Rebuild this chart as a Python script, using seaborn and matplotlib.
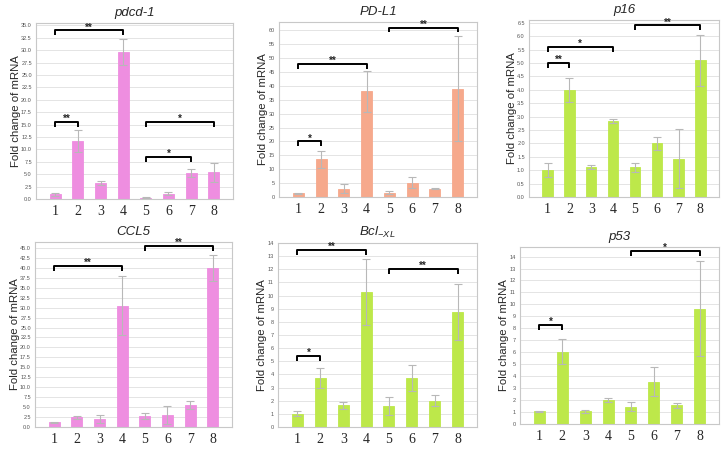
import numpy as np
import pandas as pd
import matplotlib
matplotlib.use("Agg")
import matplotlib.pyplot as plt
import seaborn as sns

# ---- data ----
groups = ["1", "2", "3", "4", "5", "6", "7", "8"]

pdcd1_mean = [1.0, 11.7, 3.3, 29.7, 0.3, 1.1, 5.3, 5.4]
pdcd1_err = [0.3, 2.2, 0.4, 2.6, 0.1, 0.3, 0.8, 1.9]

pdl1_mean = [1.3, 13.5, 3.0, 38.0, 1.5, 5.2, 3.0, 39.0]
pdl1_err = [0.2, 3.0, 1.5, 7.5, 0.5, 2.0, 0.3, 19.0]

p16_mean = [1.0, 4.0, 1.12, 2.83, 1.1, 2.0, 1.42, 5.1]
p16_err = [0.25, 0.45, 0.07, 0.08, 0.15, 0.25, 1.1, 0.95]

ccl5_mean = [1.2, 2.4, 2.0, 30.5, 2.8, 3.0, 5.5, 40.0]
ccl5_err = [0.1, 0.4, 1.0, 7.5, 0.8, 2.2, 1.0, 3.3]

bcl_mean = [1.0, 3.75, 1.65, 10.25, 1.6, 3.75, 2.0, 8.75]
bcl_err = [0.2, 0.75, 0.25, 2.5, 0.65, 1.0, 0.4, 2.1]

p53_mean = [1.05, 6.05, 1.05, 2.0, 1.45, 3.55, 1.55, 9.65]
p53_err = [0.05, 1.05, 0.15, 0.15, 0.35, 1.25, 0.2, 3.95]

# significance brackets: (group a, group b, height, label)
pdcd1_sig = [(1, 2, 15.5, "**"), (1, 4, 34.0, "**"), (5, 7, 8.5, "*"), (5, 8, 15.5, "*")]
pdl1_sig = [(1, 2, 20.0, "*"), (1, 4, 48.0, "**"), (5, 8, 61.0, "**")]
p16_sig = [(1, 2, 5.0, "**"), (1, 4, 5.6, "*"), (5, 8, 6.4, "**")]
ccl5_sig = [(1, 4, 40.5, "**"), (5, 8, 45.5, "**")]
bcl_sig = [(1, 2, 5.4, "*"), (1, 4, 13.5, "**"), (5, 8, 12.0, "**")]
p53_sig = [(1, 2, 8.3, "*"), (5, 8, 14.5, "*")]

PINK = "#ee8ee0"
SALMON = "#f6a98c"
GREEN = "#bde84a"

sns.set_theme(style="white")
plt.rcParams["font.family"] = ["Liberation Sans", "DejaVu Sans"]
plt.rcParams["mathtext.fontset"] = "custom"
plt.rcParams["mathtext.it"] = "Liberation Sans:italic"
plt.rcParams["mathtext.rm"] = "Liberation Sans"

W, H = 727, 451
fig = plt.figure(figsize=(W / 100, H / 100), dpi=100)
fig.patch.set_facecolor("white")


def add_ax(x0, y0, x1, y1):
    # pixel box (top-left origin) -> figure fraction
    return fig.add_axes([x0 / W, 1 - y1 / H, (x1 - x0) / W, (y1 - y0) / H])


def panel(ax, title, mean, err, color, ymax, step, fmt, sig):
    df = pd.DataFrame({"group": groups, "value": mean})
    sns.barplot(data=df, x="group", y="value", color=color, width=0.48,
                saturation=1, edgecolor=color, linewidth=0.6, ax=ax, zorder=2)
    xs = np.arange(len(groups))
    ax.errorbar(xs, mean, yerr=err, fmt="none", ecolor="#b8b8b8",
                elinewidth=0.8, capsize=3, capthick=0.8, zorder=3)
    ax.set_xlim(-0.85, 7.85)
    ax.set_ylim(0, ymax)
    ticks = np.arange(0, ymax + 1e-9, step)
    ax.set_yticks(ticks)
    ax.set_yticklabels([fmt.format(t) for t in ticks], fontsize=4)
    ax.set_xticks(xs)
    ax.set_xticklabels(groups, fontsize=10, family=["Liberation Serif", "DejaVu Serif"])
    ax.tick_params(axis="x", length=0, pad=4)
    ax.tick_params(axis="y", length=2, width=0.5, pad=1, colors="#555555")
    ax.grid(axis="y", color="#e4e4e4", linewidth=0.7, zorder=0)
    ax.set_axisbelow(True)
    for s in ax.spines.values():
        s.set_color("#c8c8c8")
        s.set_linewidth(0.8)
    ax.set_xlabel("")
    ax.set_ylabel("Fold change of mRNA", fontsize=8.2, labelpad=0)
    ax.set_title(title, fontsize=9.5, style="italic", pad=5)

    tick = ymax * 0.028
    for a, b, h, lab in sig:
        xa, xb = a - 1, b - 1
        ax.plot([xa, xa, xb, xb], [h - tick, h, h, h - tick], color="black",
                lw=1.4, clip_on=False, zorder=4, solid_capstyle="butt")
        ax.text((xa + xb) / 2, h, lab, ha="center", va="baseline",
                fontsize=7, fontweight="bold")


ax1 = add_ax(36, 23, 233, 199)
panel(ax1, "pdcd-1", pdcd1_mean, pdcd1_err, PINK, 35.5, 2.5, "{:.1f}", pdcd1_sig)

ax2 = add_ax(279, 22, 477, 197)
panel(ax2, "PD-L1", pdl1_mean, pdl1_err, SALMON, 63, 5, "{:.0f}", pdl1_sig)

ax3 = add_ax(529, 20, 719, 197)
panel(ax3, "p16", p16_mean, p16_err, GREEN, 6.6, 0.5, "{:.1f}", p16_sig)

ax4 = add_ax(35, 242, 232, 427)
panel(ax4, "CCL5", ccl5_mean, ccl5_err, PINK, 46.5, 2.5, "{:.1f}", ccl5_sig)

ax5 = add_ax(278, 243, 477, 427)
panel(ax5, r"$Bcl_{\mathit{-XL}}$", bcl_mean, bcl_err, GREEN, 14, 1, "{:.0f}", bcl_sig)

ax6 = add_ax(520, 247, 719, 424)
panel(ax6, "p53", p53_mean, p53_err, GREEN, 14.8, 1, "{:.0f}", p53_sig)

fig.savefig("out.png", dpi=100, facecolor="white")
